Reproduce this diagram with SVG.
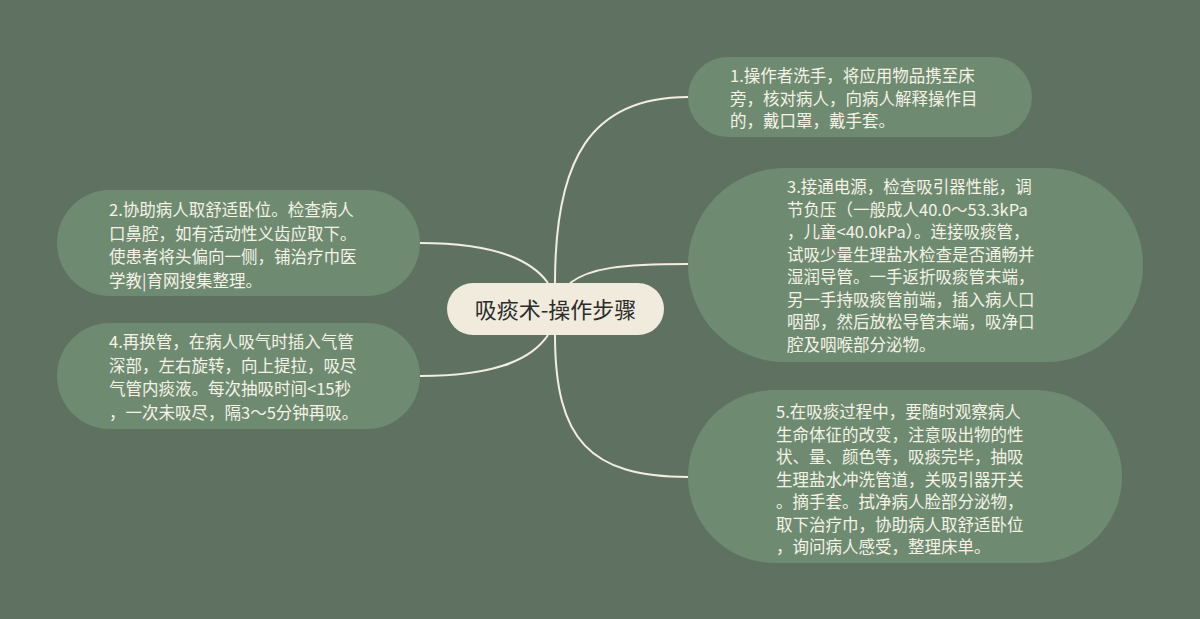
<svg xmlns="http://www.w3.org/2000/svg" width="1200" height="619" viewBox="0 0 1200 619">
<style>
.bg{fill:#5f7262}
.node{fill:#6e8b72}
.root{fill:#f0ebdc}
.t{font-family:"Noto Sans CJK SC","Noto Sans",sans-serif;font-size:16.5px;fill:#f6f2e6}
.rt{font-family:"Noto Sans CJK SC","Noto Sans",sans-serif;font-size:22px;fill:#2b2b2b}
.c{fill:none;stroke:#f3eedf;stroke-width:2}
</style>
<rect class="bg" x="0" y="0" width="1200" height="619"/>
<g id="connectors">
<path class="c" d="M555,283 C555,160 590,97 688,97"/>
<path class="c" d="M570,283 C590,268 620,264 688,264"/>
<path class="c" d="M555,335 C555,440 590,477 688,477"/>
<path class="c" d="M548,283 C530,258 490,243 420,243"/>
<path class="c" d="M548,335 C530,362 490,376 420,376"/>
</g>
<g id="root">
<rect class="root" x="447" y="283" width="217" height="52" rx="26"/>
<text class="rt" x="555.5" y="317.5" text-anchor="middle">吸痰术-操作步骤</text>
</g>
<g id="node1">
<rect class="node" x="688" y="57" width="344" height="80" rx="40"/>
<text class="t"><tspan x="730" y="82">1.操作者洗手，将应用物品携至床</tspan><tspan x="730" y="104.5">旁，核对病人，向病人解释操作目</tspan><tspan x="730" y="127">的，戴口罩，戴手套。</tspan></text>
</g>
<g id="node3">
<rect class="node" x="688" y="168" width="455" height="194" rx="97"/>
<text class="t"><tspan x="787" y="193">3.接通电源，检查吸引器性能，调</tspan><tspan x="787" y="215.5">节负压（一般成人40.0～53.3kPa</tspan><tspan x="787" y="238">，儿童&lt;40.0kPa）。连接吸痰管，</tspan><tspan x="787" y="260.5">试吸少量生理盐水检查是否通畅并</tspan><tspan x="787" y="283">湿润导管。一手返折吸痰管末端，</tspan><tspan x="787" y="305.5">另一手持吸痰管前端，插入病人口</tspan><tspan x="787" y="328">咽部，然后放松导管末端，吸净口</tspan><tspan x="787" y="350.5">腔及咽喉部分泌物。</tspan></text>
</g>
<g id="node5">
<rect class="node" x="688" y="390" width="434" height="173" rx="86.5"/>
<text class="t"><tspan x="776" y="418">5.在吸痰过程中，要随时观察病人</tspan><tspan x="776" y="440.5">生命体征的改变，注意吸出物的性</tspan><tspan x="776" y="463">状、量、颜色等，吸痰完毕，抽吸</tspan><tspan x="776" y="485.5">生理盐水冲洗管道，关吸引器开关</tspan><tspan x="776" y="508">。摘手套。拭净病人脸部分泌物，</tspan><tspan x="776" y="530.5">取下治疗巾，协助病人取舒适卧位</tspan><tspan x="776" y="553">，询问病人感受，整理床单。</tspan></text>
</g>
<g id="node2">
<rect class="node" x="57" y="190" width="363" height="106" rx="53"/>
<text class="t"><tspan x="109" y="216">2.协助病人取舒适卧位。检查病人</tspan><tspan x="109" y="239.5">口鼻腔，如有活动性义齿应取下。</tspan><tspan x="109" y="263">使患者将头偏向一侧，铺治疗巾医</tspan><tspan x="109" y="286.5">学教|育网搜集整理。</tspan></text>
</g>
<g id="node4">
<rect class="node" x="57" y="323" width="363" height="106" rx="53"/>
<text class="t"><tspan x="109" y="348">4.再换管，在病人吸气时插入气管</tspan><tspan x="109" y="371.5">深部，左右旋转，向上提拉，吸尽</tspan><tspan x="109" y="395">气管内痰液。每次抽吸时间&lt;15秒</tspan><tspan x="109" y="418.5">，一次未吸尽，隔3～5分钟再吸。</tspan></text>
</g>
</svg>
